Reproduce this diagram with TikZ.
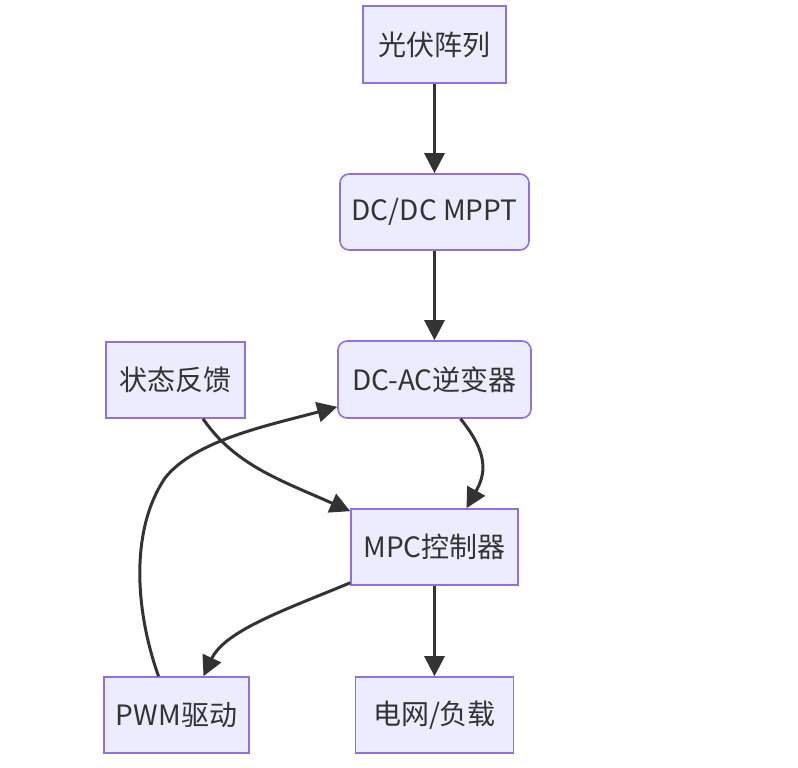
\documentclass[tikz,border=0pt]{standalone}
\usepackage{fontspec}
\setmainfont{Noto Sans CJK SC}
\usetikzlibrary{arrows.meta,calc}
\definecolor{nodefill}{HTML}{ECECFF}
\definecolor{nodeline}{HTML}{9370DB}
\definecolor{ink}{HTML}{333333}
\tikzset{
  box/.style={draw=nodeline, fill=nodefill, line width=1.6pt, text=ink, inner sep=0pt,
    font=\fontsize{28}{32}\selectfont},
  rbox/.style={box, rounded corners=9pt},
  conn/.style={draw=ink, line width=3pt, -{Triangle[length=20pt,width=20pt]}}
}
\begin{document}
\begin{tikzpicture}[x=1pt,y=-1pt]
\useasboundingbox (0,0) rectangle (798,768);
\fill[white] (0,0) rectangle (798,768);
\node[box, minimum width=143pt, minimum height=77pt] (A) at (434.5,44.5) {光伏阵列};
\node[rbox, minimum width=189pt, minimum height=76pt] (B) at (434.5,212) {DC/DC MPPT};
\node[rbox, minimum width=193pt, minimum height=77pt] (C) at (434.5,379.5) {DC-AC逆变器};
\node[box, minimum width=139pt, minimum height=76pt] (D) at (175.5,380) {状态反馈};
\node[box, minimum width=167pt, minimum height=76pt] (E) at (434.5,547) {MPC控制器};
\node[box, minimum width=145pt, minimum height=76pt] (F) at (176.5,715) {PWM驱动};
\node[box, minimum width=158pt, minimum height=76pt] (G) at (434.5,715) {电网/负载};

\draw[conn] (A) -- (B);
\draw[conn] (B) -- (C);
\draw[conn] ([xshift=26pt]C.south) .. controls (490,455) and (485,475) .. ([xshift=32pt]E.north);
\draw[conn] ([xshift=27.5pt]D.south) .. controls (235,465) and (280,480) .. ([yshift=-3pt]E.north west);
\draw[conn] ([yshift=3pt]E.south west) .. controls (290,608) and (225,630) .. ([xshift=27pt]F.north);
\draw[conn] ([xshift=-18pt]F.north) .. controls (135,610) and (130,530) .. (165,478)
   .. controls (195,440) and (270,425) .. ([yshift=12pt]C.south west);
\draw[conn] (E) -- (G);
\end{tikzpicture}
\end{document}
